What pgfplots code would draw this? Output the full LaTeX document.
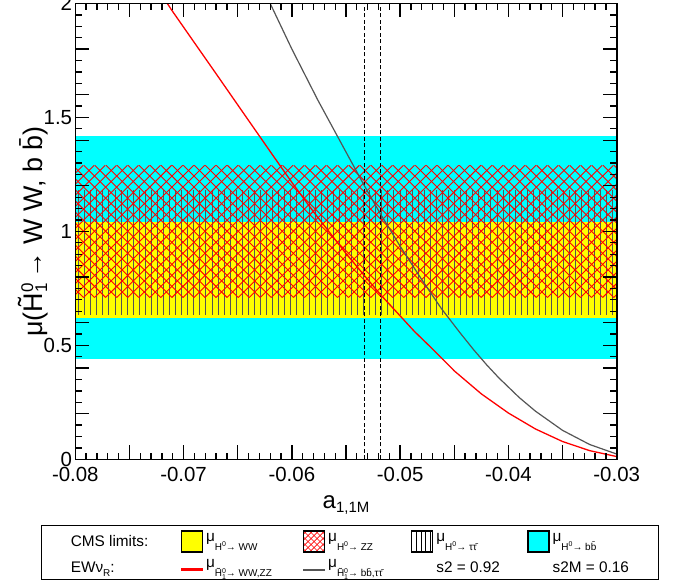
\documentclass[border=0pt]{standalone}
\usepackage{fontspec}
\setmainfont{Liberation Sans}
\usepackage{pgfplots}
\usepackage{pgfplotstable}
\pgfplotsset{compat=1.18}

\definecolor{rootyellow}{RGB}{255,255,0}
\definecolor{rootcyan}{RGB}{0,255,255}
\definecolor{rootgray}{RGB}{85,85,85}
\definecolor{rootred}{RGB}{255,0,0}

\newcommand{\lsub}[1]{\raisebox{-4bp}{\fontsize{10}{12}\selectfont #1}}
\newcommand{\mup}{\raisebox{5bp}{μ}}
\newcommand{\supz}{\raisebox{3.5bp}{\fontsize{7}{8}\selectfont 0}}
\newcommand{\Htz}{\~H\rlap{\raisebox{3.5bp}{\fontsize{7}{8}\selectfont 0}}\raisebox{-2.5bp}{\fontsize{7}{8}\selectfont 1}}

\pgfplotsset{
  boxlegend/.style={legend image code/.code={\draw[##1] (0bp,-6bp) rectangle (21bp,15bp);}},
}

\pgfplotstableread{
x y
-0.0715 2.00
-0.0711 1.971
-0.0690 1.828
-0.0670 1.692
-0.0645 1.521
-0.0617 1.330
-0.0600 1.215
-0.0580 1.086
-0.0550 0.903
-0.0533 0.806
-0.0518 0.722
-0.0505 0.655
-0.0487 0.562
-0.0469 0.479
-0.0450 0.388
-0.0425 0.287
-0.0400 0.203
-0.0375 0.133
-0.0350 0.078
-0.0325 0.038
-0.0300 0.012
}\redcurve

\pgfplotstableread{
x y
-0.0620 2.000
-0.0600 1.800
-0.0576 1.576
-0.0551 1.357
-0.0533 1.200
-0.0518 1.075
-0.0500 0.935
-0.0480 0.788
-0.0462 0.662
-0.0445 0.557
-0.0432 0.480
-0.0420 0.414
-0.0409 0.358
-0.0390 0.271
-0.0375 0.211
-0.0350 0.127
-0.0325 0.065
-0.0300 0.023
}\graycurve

% tick positions
\pgfplotstableread{
x yb yt
-0.080 0 2
-0.075 0 2
-0.070 0 2
-0.065 0 2
-0.060 0 2
-0.055 0 2
-0.050 0 2
-0.045 0 2
-0.040 0 2
-0.035 0 2
-0.030 0 2
}\xlongtab
\pgfplotstableread{
x yb yt
-0.079 0 2
-0.078 0 2
-0.077 0 2
-0.076 0 2
-0.074 0 2
-0.073 0 2
-0.072 0 2
-0.071 0 2
-0.069 0 2
-0.068 0 2
-0.067 0 2
-0.066 0 2
-0.064 0 2
-0.063 0 2
-0.062 0 2
-0.061 0 2
-0.059 0 2
-0.058 0 2
-0.057 0 2
-0.056 0 2
-0.054 0 2
-0.053 0 2
-0.052 0 2
-0.051 0 2
-0.049 0 2
-0.048 0 2
-0.047 0 2
-0.046 0 2
-0.044 0 2
-0.043 0 2
-0.042 0 2
-0.041 0 2
-0.039 0 2
-0.038 0 2
-0.037 0 2
-0.036 0 2
-0.034 0 2
-0.033 0 2
-0.032 0 2
-0.031 0 2
}\xshorttab
\pgfplotstableread{
y xl xr
0.0 -0.08 -0.03
0.2 -0.08 -0.03
0.4 -0.08 -0.03
0.5 -0.08 -0.03
0.6 -0.08 -0.03
0.8 -0.08 -0.03
1.0 -0.08 -0.03
1.2 -0.08 -0.03
1.4 -0.08 -0.03
1.5 -0.08 -0.03
1.6 -0.08 -0.03
1.8 -0.08 -0.03
2.0 -0.08 -0.03
}\ylongtab
\pgfplotstableread{
y xl xr
0.05 -0.08 -0.03
0.10 -0.08 -0.03
0.15 -0.08 -0.03
0.25 -0.08 -0.03
0.30 -0.08 -0.03
0.35 -0.08 -0.03
0.45 -0.08 -0.03
0.55 -0.08 -0.03
0.65 -0.08 -0.03
0.70 -0.08 -0.03
0.75 -0.08 -0.03
0.85 -0.08 -0.03
0.90 -0.08 -0.03
0.95 -0.08 -0.03
1.05 -0.08 -0.03
1.10 -0.08 -0.03
1.15 -0.08 -0.03
1.25 -0.08 -0.03
1.30 -0.08 -0.03
1.35 -0.08 -0.03
1.45 -0.08 -0.03
1.55 -0.08 -0.03
1.65 -0.08 -0.03
1.70 -0.08 -0.03
1.75 -0.08 -0.03
1.85 -0.08 -0.03
1.90 -0.08 -0.03
1.95 -0.08 -0.03
}\yshorttab

% start points of the tau hatch lines (band 0.635 -- 1.18)
\pgfplotstableread{
x y
-0.07970 0.635
-0.07914 0.635
-0.07858 0.635
-0.07802 0.635
-0.07746 0.635
-0.07690 0.635
-0.07634 0.635
-0.07578 0.635
-0.07522 0.635
-0.07466 0.635
-0.07410 0.635
-0.07354 0.635
-0.07298 0.635
-0.07242 0.635
-0.07186 0.635
-0.07130 0.635
-0.07074 0.635
-0.07018 0.635
-0.06962 0.635
-0.06906 0.635
-0.06850 0.635
-0.06794 0.635
-0.06738 0.635
-0.06682 0.635
-0.06626 0.635
-0.06570 0.635
-0.06514 0.635
-0.06458 0.635
-0.06402 0.635
-0.06346 0.635
-0.06290 0.635
-0.06234 0.635
-0.06178 0.635
-0.06122 0.635
-0.06066 0.635
-0.06010 0.635
-0.05954 0.635
-0.05898 0.635
-0.05842 0.635
-0.05786 0.635
-0.05730 0.635
-0.05674 0.635
-0.05618 0.635
-0.05562 0.635
-0.05506 0.635
-0.05450 0.635
-0.05394 0.635
-0.05338 0.635
-0.05282 0.635
-0.05226 0.635
-0.05170 0.635
-0.05114 0.635
-0.05058 0.635
-0.05002 0.635
-0.04946 0.635
-0.04890 0.635
-0.04834 0.635
-0.04778 0.635
-0.04722 0.635
-0.04666 0.635
-0.04610 0.635
-0.04554 0.635
-0.04498 0.635
-0.04442 0.635
-0.04386 0.635
-0.04330 0.635
-0.04274 0.635
-0.04218 0.635
-0.04162 0.635
-0.04106 0.635
-0.04050 0.635
-0.03994 0.635
-0.03938 0.635
-0.03882 0.635
-0.03826 0.635
-0.03770 0.635
-0.03714 0.635
-0.03658 0.635
-0.03602 0.635
-0.03546 0.635
-0.03490 0.635
-0.03434 0.635
-0.03378 0.635
-0.03322 0.635
-0.03266 0.635
-0.03210 0.635
-0.03154 0.635
-0.03098 0.635
-0.03042 0.635
}\taustarts

% start points of the ZZ cross-hatch lines (band 0.71 -- 1.29)
\pgfplotstableread{
x y
-0.09250 0.71
-0.09148 0.71
-0.09046 0.71
-0.08944 0.71
-0.08842 0.71
-0.08740 0.71
-0.08638 0.71
-0.08536 0.71
-0.08434 0.71
-0.08332 0.71
-0.08230 0.71
-0.08128 0.71
-0.08026 0.71
-0.07924 0.71
-0.07822 0.71
-0.07720 0.71
-0.07618 0.71
-0.07516 0.71
-0.07414 0.71
-0.07312 0.71
-0.07210 0.71
-0.07108 0.71
-0.07006 0.71
-0.06904 0.71
-0.06802 0.71
-0.06700 0.71
-0.06598 0.71
-0.06496 0.71
-0.06394 0.71
-0.06292 0.71
-0.06190 0.71
-0.06088 0.71
-0.05986 0.71
-0.05884 0.71
-0.05782 0.71
-0.05680 0.71
-0.05578 0.71
-0.05476 0.71
-0.05374 0.71
-0.05272 0.71
-0.05170 0.71
-0.05068 0.71
-0.04966 0.71
-0.04864 0.71
-0.04762 0.71
-0.04660 0.71
-0.04558 0.71
-0.04456 0.71
-0.04354 0.71
-0.04252 0.71
-0.04150 0.71
-0.04048 0.71
-0.03946 0.71
-0.03844 0.71
-0.03742 0.71
-0.03640 0.71
-0.03538 0.71
-0.03436 0.71
-0.03334 0.71
-0.03232 0.71
-0.03130 0.71
-0.03028 0.71
-0.02926 0.71
-0.02824 0.71
-0.02722 0.71
-0.02620 0.71
-0.02518 0.71
-0.02416 0.71
-0.02314 0.71
-0.02212 0.71
-0.02110 0.71
-0.02008 0.71
-0.01906 0.71
-0.01804 0.71
-0.01702 0.71
}\zzstarts

\begin{document}
\begin{tikzpicture}
\begin{axis}[
  at={(0,0)}, anchor=south west,
  width=541.4bp, height=455.8bp, scale only axis,
  xmin=-0.08, xmax=-0.03, ymin=0, ymax=2,
  axis on top,
  axis line style={line width=1.6bp},
  xtick={-0.08,-0.07,-0.06,-0.05,-0.04,-0.03},
  xticklabels={-0.08,-0.07,-0.06,-0.05,-0.04,-0.03},
  ytick={0,0.5,1,1.5,2},
  yticklabels={0,0.5,1,1.5,2},
  major tick length=0pt, minor tick length=0pt,
  scaled x ticks=false, scaled y ticks=false,
  tick label style={font=\fontsize{20.5}{24}\selectfont},
  xticklabel style={anchor=base, yshift=-22.5bp},
  yticklabel style={anchor=east, inner xsep=0pt, xshift=-3bp},
  xlabel={a\raisebox{-4bp}{\fontsize{15}{18}\selectfont 1,1M}},
  every axis x label/.style={at={(axis description cs:0.5,-0.108)}, anchor=base, font=\fontsize{24}{28}\selectfont},
  ylabel={μ(\~H\rlap{\raisebox{9bp}{\fontsize{17}{20}\selectfont 0}}\raisebox{-5bp}{\fontsize{17}{20}\selectfont 1}\,→ W W, b \=b)},
  every axis y label/.style={at={(axis description cs:-0.0615,0.5)}, anchor=base, rotate=90, font=\fontsize{27}{30}\selectfont},
  legend columns=5,
  legend style={at={(axis description cs:-0.0628,-0.144)}, anchor=north west,
    draw=black, line width=1bp, inner xsep=29bp, inner ysep=5bp,
    font=\fontsize{15.4}{18}\selectfont,
    /tikz/column sep=0pt, /tikz/row sep=7bp,
    nodes={inner sep=0pt, anchor=base west}, cells={anchor=base west}},
]
% CMS bands
\addplot[draw=none, fill=rootcyan, forget plot] coordinates {(-0.08,0.44) (-0.03,0.44) (-0.03,1.42) (-0.08,1.42)} -- cycle;
\addplot[draw=none, fill=rootyellow, forget plot] coordinates {(-0.08,0.62) (-0.03,0.62) (-0.03,1.04) (-0.08,1.04)} -- cycle;
% tau: vertical hatch lines
\addplot[forget plot, -, rootgray, line width=0.8bp, quiver={u=0, v=0.545}] table[x=x,y=y] {\taustarts};
% ZZ: red cross hatch
\addplot[forget plot, -, rootred, line width=0.9bp, quiver={u=0.01221, v=0.58}] table[x=x,y=y] {\zzstarts};
\addplot[forget plot, -, rootred, line width=0.9bp, quiver={u=-0.01221, v=0.58}] table[x=x,y=y] {\zzstarts};
% dashed lines
\addplot[black, line width=1.3bp, dash pattern=on 4bp off 2.5bp, forget plot] coordinates {(-0.0533,0) (-0.0533,2)};
\addplot[black, line width=1.3bp, dash pattern=on 4bp off 2.5bp, forget plot] coordinates {(-0.0518,0) (-0.0518,2)};
% curves
\addplot[rootred, line width=1.3bp, forget plot] table[x=x,y=y] {\redcurve};
\addplot[rootgray, line width=1.2bp, forget plot] table[x=x,y=y] {\graycurve};
% tick marks (inside, on all four sides)
\addplot[forget plot, -, black, line width=1.3bp, quiver={u=0, v=0.0614}] table[x=x,y=yb] {\xlongtab};
\addplot[forget plot, -, black, line width=1.3bp, quiver={u=0, v=-0.0614}] table[x=x,y=yt] {\xlongtab};
\addplot[forget plot, -, black, line width=1.3bp, quiver={u=0, v=0.0294}] table[x=x,y=yb] {\xshorttab};
\addplot[forget plot, -, black, line width=1.3bp, quiver={u=0, v=-0.0294}] table[x=x,y=yt] {\xshorttab};
\addplot[forget plot, -, black, line width=1.3bp, quiver={u=0.001293, v=0}] table[x=xl,y=y] {\ylongtab};
\addplot[forget plot, -, black, line width=1.3bp, quiver={u=-0.001293, v=0}] table[x=xr,y=y] {\ylongtab};
\addplot[forget plot, -, black, line width=1.3bp, quiver={u=0.000619, v=0}] table[x=xl,y=y] {\yshorttab};
\addplot[forget plot, -, black, line width=1.3bp, quiver={u=-0.000619, v=0}] table[x=xr,y=y] {\yshorttab};

% legend
\addlegendimage{empty legend}
\addlegendentry{\makebox[110bp][l]{CMS limits:}}
\addlegendimage{boxlegend, fill=rootyellow, draw=black, line width=1.2bp}
\addlegendentry{\makebox[100bp][l]{\hspace{3bp}\mup\lsub{H\supz→ WW}}}
\addlegendimage{legend image code/.code={%
  \begin{scope}
  \clip (0bp,-6bp) rectangle (21bp,15bp);
  \draw[rootred, line width=0.6bp] (-18bp,-6bp) -- ++(21bp,21bp) (-12bp,-6bp) -- ++(21bp,21bp) (-6bp,-6bp) -- ++(21bp,21bp) (0bp,-6bp) -- ++(21bp,21bp) (6bp,-6bp) -- ++(21bp,21bp) (12bp,-6bp) -- ++(21bp,21bp) (18bp,-6bp) -- ++(21bp,21bp);
  \draw[rootred, line width=0.6bp] (3bp,-6bp) -- ++(-21bp,21bp) (9bp,-6bp) -- ++(-21bp,21bp) (15bp,-6bp) -- ++(-21bp,21bp) (21bp,-6bp) -- ++(-21bp,21bp) (27bp,-6bp) -- ++(-21bp,21bp) (33bp,-6bp) -- ++(-21bp,21bp) (39bp,-6bp) -- ++(-21bp,21bp);
  \end{scope}
  \draw[black, line width=1.2bp] (0bp,-6bp) rectangle (21bp,15bp);}}
\addlegendentry{\makebox[86bp][l]{\hspace{3bp}\mup\lsub{H\supz→ ZZ}}}
\addlegendimage{legend image code/.code={%
  \draw[black, line width=0.6bp] (4.5bp,-6bp) -- (4.5bp,15bp) (9bp,-6bp) -- (9bp,15bp) (13.5bp,-6bp) -- (13.5bp,15bp) (18bp,-6bp) -- (18bp,15bp);
  \draw[black, line width=1.2bp] (0bp,-6bp) rectangle (21bp,15bp);}}
\addlegendentry{\makebox[94bp][l]{\hspace{3bp}\mup\lsub{H\supz→ τ\=τ}}}
\addlegendimage{boxlegend, fill=rootcyan, draw=black, line width=1.2bp}
\addlegendentry{\makebox[80bp][l]{\hspace{3bp}\mup\lsub{H\supz→ b\=b}}}
\addlegendimage{empty legend}
\addlegendentry{\makebox[110bp][l]{EWν\lsub{R}:}}
\addlegendimage{legend image code/.code={\fill[rootred] (0bp,2.2bp) rectangle (21bp,3.8bp);}}
\addlegendentry{\makebox[100bp][l]{\hspace{3bp}\mup\lsub{\Htz→ WW,ZZ}}}
\addlegendimage{legend image code/.code={\fill[rootgray] (0bp,2.3bp) rectangle (21bp,3.7bp);}}
\addlegendentry{\makebox[86bp][l]{\hspace{3bp}\mup\lsub{\Htz→ b\=b,τ\=τ}}}
\addlegendimage{empty legend}
\addlegendentry{\makebox[94bp][l]{\hspace{3bp}s2 = 0.92}}
\addlegendimage{empty legend}
\addlegendentry{\makebox[80bp][l]{\hspace{3bp}s2M = 0.16}}
\end{axis}
\pgfresetboundingbox
\path[use as bounding box] (-75.3bp,-126.7bp) rectangle (599.7bp,459.3bp);
\end{tikzpicture}
\end{document}
